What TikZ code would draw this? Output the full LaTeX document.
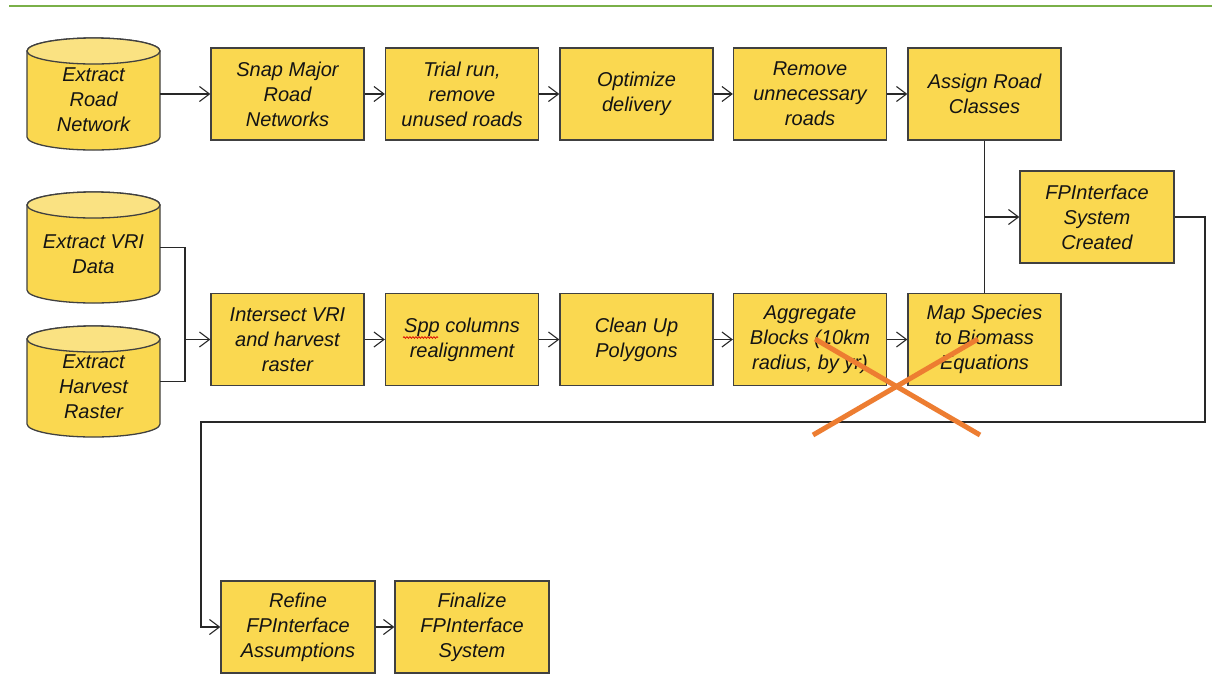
\documentclass[tikz,border=0pt]{standalone}
\usepackage{fontspec}
\setmainfont{Liberation Sans}
\usetikzlibrary{arrows.meta,decorations.pathmorphing}
\definecolor{boxfill}{RGB}{250,216,80}
\definecolor{cyltop}{RGB}{250,226,130}
\definecolor{edge}{RGB}{64,64,64}
\definecolor{wire}{RGB}{40,40,40}
\definecolor{crossc}{RGB}{237,125,49}
\definecolor{topline}{RGB}{122,176,72}
\definecolor{txt}{RGB}{20,20,20}
\tikzset{
  procbox/.style={draw=edge, line width=1.3pt, fill=boxfill, minimum width=153pt, minimum height=92pt,
    align=center, font=\fontsize{20pt}{25pt}\selectfont\itshape, text=txt, inner sep=0pt},
  cylbody/.style={draw=edge, line width=1.3pt, fill=boxfill},
  cyltopst/.style={draw=edge, line width=1.3pt, fill=cyltop},
  cylframe/.style={inner sep=0pt, minimum width=133pt, minimum height=#1},
  cyltext/.style={align=center, font=\fontsize{20pt}{25pt}\selectfont\itshape, text=txt, inner sep=0pt},
  conn/.style={draw=wire, line width=1.1pt},
  arr/.style={conn, -{Straight Barb[length=10pt,width=15pt,line width=1.1pt]}},
  crossline/.style={draw=crossc, line width=5pt},
}
% #1 name, #2 center x, #3 top y, #4 bottom y, #5 text y, #6 text
\newcommand\dbcylinder[6]{%
  \path[cylbody] (#2-66.5,-#3-13) -- (#2-66.5,-#4+13)
     arc[start angle=180,end angle=360,x radius=66.5pt,y radius=13pt]
     -- (#2+66.5,-#3-13)
     arc[start angle=0,end angle=180,x radius=66.5pt,y radius=13pt] -- cycle;
  \path[cyltopst] (#2,-#3-13) ellipse[x radius=66.5pt,y radius=13pt];
  \node[cylframe=#4-#3] (#1) at (#2,{-(#3+#4)/2}) {};
  \node[cyltext] (#1T) at (#2,-#5) {#6};
}
\begin{document}
\begin{tikzpicture}[x=1pt,y=1pt]
\useasboundingbox[fill=white] (0,0) rectangle (1212,-673);
\draw[topline, line width=1.5pt] (9,-6) -- (1212,-6);

% cylinders
\dbcylinder{road}{93.5}{38}{150}{100}{Extract\\Road\\Network}
\dbcylinder{vri}{93.5}{192}{303}{254}{Extract VRI\\Data}
\dbcylinder{harv}{93.5}{326}{437}{387}{Extract\\Harvest\\Raster}

% row 1
\node[procbox] (snap)   at (287.5,-94) {Snap Major\\Road\\Networks};
\node[procbox] (trial)  at (462,-94)   {Trial run,\\remove\\unused roads};
\node[procbox] (optim)  at (636.5,-94) {Optimize\\delivery};
\node[procbox] (remove) at (810,-94)   {Remove\\unnecessary\\roads};
\node[procbox] (assign) at (984.5,-94) {Assign Road\\Classes};

% row 2
\node[procbox] (inter) at (287.5,-339.5) {Intersect VRI\\and harvest\\raster};
\node[procbox] (spp)   at (462,-339.5)   {Spp columns\\realignment};
\node[procbox] (clean) at (636.5,-339.5) {Clean Up\\Polygons};
\node[procbox] (aggr)  at (810,-339.5)   {Aggregate\\Blocks (10km\\radius, by yr)};
\node[procbox] (mapsp) at (984.5,-339.5) {Map Species\\to Biomass\\Equations};

\node[procbox, minimum width=154pt] (fp) at (1097,-217) {FPInterface\\System\\Created};

\node[procbox, minimum width=154pt] (refine)   at (298,-627) {Refine\\FPInterface\\Assumptions};
\node[procbox, minimum width=154pt] (finalize) at (472,-627) {Finalize\\FPInterface\\System};

% spell-check squiggle under "Spp"
\coordinate (sq1) at (403,-337.5);
\coordinate (sq2) at (438,-337.5);
\draw[red!85!black, line width=0.7pt, decorate, decoration={snake, amplitude=0.9pt, segment length=3pt}] (sq1) -- (sq2);

% connectors row 1
\draw[arr] (road.east) -- (snap.west);
\draw[arr] (snap.east) -- (trial.west);
\draw[arr] (trial.east) -- (optim.west);
\draw[arr] (optim.east) -- (remove.west);
\draw[arr] (remove.east) -- (assign.west);

% joins of the data cylinders
\coordinate (jn) at (185,-339.5);
\draw[conn] (vri.east) -| (jn) |- (harv.east);
\draw[arr] (jn) -- (inter.west);

% row 2
\draw[arr] (inter.east) -- (spp.west);
\draw[arr] (spp.east) -- (clean.west);
\draw[arr] (clean.east) -- (aggr.west);
\draw[arr] (aggr.east) -- (mapsp.west);

% into FPInterface
\draw[conn] (assign.south) -- (mapsp.north);
\draw[arr] (assign.south |- fp.west) -- (fp.west);

% loop back
\coordinate (lp1) at (1205,-422);
\coordinate (lp2) at (201,-422);
\draw[arr] (fp.east) -| (lp1) -- (lp2) |- (refine.west);
\draw[arr] (refine.east) -- (finalize.west);

% orange cross
\coordinate (xa) at (815,-339);
\coordinate (xb) at (980,-435);
\coordinate (xc) at (813,-435);
\coordinate (xd) at (978,-339);
\draw[crossline] (xa) -- (xb);
\draw[crossline] (xc) -- (xd);
\end{tikzpicture}
\end{document}
